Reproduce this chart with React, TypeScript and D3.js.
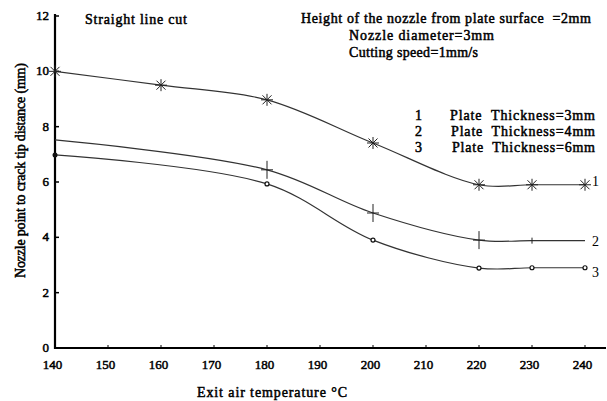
import * as d3 from 'd3';

const temps1 = [140, 160, 180, 200, 220, 230, 240];
const dist1 = [10, 9.5, 8.97, 7.41, 5.9, 5.9, 5.9];
const temps2 = [140, 180, 200, 220, 230, 240];
const dist2 = [7.52, 6.44, 4.88, 3.9, 3.88, 3.88];
const temps3 = [140, 180, 200, 220, 230, 240];
const dist3 = [6.98, 5.93, 3.9, 2.89, 2.9, 2.9];

const xTicks = [140, 150, 160, 170, 180, 190, 200, 210, 220, 230, 240];
const yTicks = [0, 2, 4, 6, 8, 10, 12];
const legendLabels = ['Plate  Thickness=3mm', 'Plate  Thickness=4mm', 'Plate  Thickness=6mm'];
const notes = ['Height of the nozzle from plate surface  =2mm', 'Nozzle diameter=3mm', 'Cutting speed=1mm/s'];

const W = 607;
const H = 401;
const font = "'Liberation Serif', serif";

export default function App() {
  const x = d3.scaleLinear().domain([140, 240]).range([55, 585]);
  const y = d3.scaleLinear().domain([0, 12]).range([348, 16]);

  const line = d3
    .line<[number, number]>()
    .x((d) => x(d[0]))
    .y((d) => y(d[1]))
    .curve(d3.curveCatmullRom.alpha(0.5));

  const series = [
    { t: temps1, v: dist1, mark: 'star', end: '1', dy: 1 },
    { t: temps2, v: dist2, mark: 'plus', end: '2', dy: 5 },
    { t: temps3, v: dist3, mark: 'circle', end: '3', dy: 9 },
  ];

  const marker = (kind: string, cx: number, cy: number, key: string, j: number, n: number) => {
    if (kind === 'star') {
      const r = 6;
      return (
        <g key={key} stroke="#222" strokeWidth={1}>
          <line x1={cx - r} y1={cy} x2={cx + r} y2={cy} />
          <line x1={cx} y1={cy - r} x2={cx} y2={cy + r} />
          <line x1={cx - r * 0.75} y1={cy - r * 0.75} x2={cx + r * 0.75} y2={cy + r * 0.75} />
          <line x1={cx - r * 0.75} y1={cy + r * 0.75} x2={cx + r * 0.75} y2={cy - r * 0.75} />
        </g>
      );
    }
    if (kind === 'plus') {
      if (j === 0 || j === n - 1) return null;
      const small = j === n - 2;
      return (
        <g key={key} stroke="#222" strokeWidth={1}>
          <line x1={cx - (small ? 0 : 6)} y1={cy} x2={cx + (small ? 0 : 6)} y2={cy} />
          <line x1={cx} y1={cy - (small ? 3 : 9)} x2={cx} y2={cy + (small ? 3 : 9)} />
        </g>
      );
    }
    return j === 0 ? (
      <circle key={key} cx={cx} cy={cy} r={2.5} fill="#111" />
    ) : (
      <circle key={key} cx={cx} cy={cy} r={2} fill="white" stroke="#111" strokeWidth={1.2} />
    );
  };

  // faux bold: regular serif with a thin stroke
  const txt = { fontFamily: font, whiteSpace: 'pre' as const };
  const bold = { stroke: 'black', strokeWidth: 0.5 };
  const stretch = (len: number) => ({ textLength: len, lengthAdjust: 'spacing' });

  return (
    <svg width={W} height={H} style={{ position: 'absolute', left: 0, top: 0, background: 'white', fontFamily: font }}>
      <rect width={W} height={H} fill="white" />
      {/* axes */}
      <line x1={55} y1={14} x2={55} y2={349} stroke="black" strokeWidth={2.2} />
      <line x1={54} y1={348} x2={606} y2={348} stroke="black" strokeWidth={2.2} />
      {yTicks.map((t) => (
        <g key={t}>
          <line x1={55} x2={59} y1={y(t)} y2={y(t)} stroke="black" strokeWidth={1.5} />
          <text x={49} y={y(t) + 4} textAnchor="end" style={txt} {...bold} fontSize={13}>
            {t}
          </text>
        </g>
      ))}
      {xTicks.map((t) => (
        <g key={t}>
          <line x1={x(t)} x2={x(t)} y1={348} y2={345} stroke="black" strokeWidth={1} />
          <text x={x(t) - 2.5} y={369} textAnchor="middle" style={txt} {...bold} fontSize={13}>
            {t}
          </text>
        </g>
      ))}
      <text x={197} y={397} style={txt} {...bold} fontSize={14} {...stretch(150)}>
        Exit air temperature °C
      </text>
      <text transform="translate(25,278) rotate(-90)" style={txt} {...bold} fontSize={14} {...stretch(215)}>
        Nozzle point to crack tip distance (mm)
      </text>

      {/* curves */}
      {series.map((s, i) => {
        const pts = s.t.map((t, j) => [t, s.v[j]] as [number, number]);
        return (
          <g key={i}>
            <path d={line(pts) ?? undefined} fill="none" stroke="#333" strokeWidth={1.2} />
            {pts.map((p, j) => marker(s.mark, x(p[0]), y(p[1]), `${i}-${j}`, j, pts.length))}
            <text x={x(240) + 7} y={y(s.v[s.v.length - 1]) + s.dy} style={txt} fontSize={14}>
              {s.end}
            </text>
          </g>
        );
      })}

      {/* annotations */}
      <text x={85} y={24} style={txt} {...bold} fontSize={14} {...stretch(102)}>
        Straight line cut
      </text>
      <text x={301} y={23} style={txt} {...bold} fontSize={14} {...stretch(290)}>
        {notes[0]}
      </text>
      <text x={349} y={40} style={txt} {...bold} fontSize={14} {...stretch(145)}>
        {notes[1]}
      </text>
      <text x={349} y={57} style={txt} {...bold} fontSize={14} {...stretch(129)}>
        {notes[2]}
      </text>
      {legendLabels.map((l, i) => (
        <g key={l}>
          <text x={415} y={120 + i * 16} style={txt} {...bold} fontSize={14}>
            {i + 1}
          </text>
          <text x={450 + i} y={120 + i * 16} style={txt} {...bold} fontSize={14} {...stretch(145 - i)}>
            {l}
          </text>
        </g>
      ))}
    </svg>
  );
}
